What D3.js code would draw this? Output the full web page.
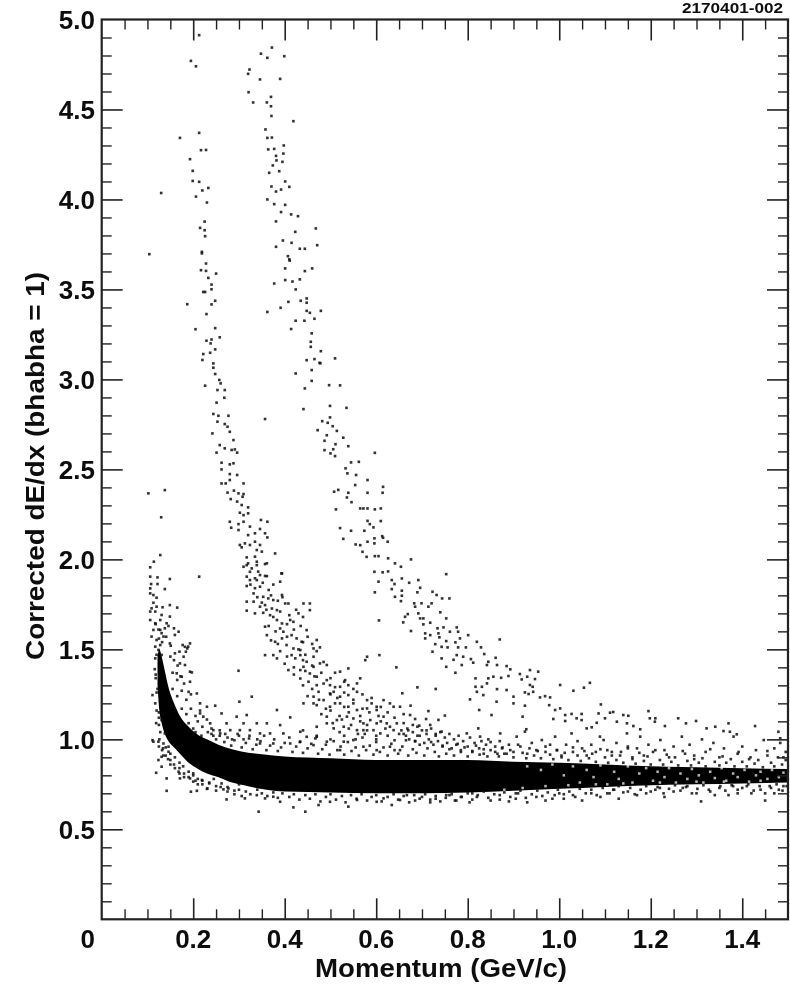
<!DOCTYPE html>
<html><head><meta charset="utf-8">
<script src="https://cdnjs.cloudflare.com/ajax/libs/d3/7.8.5/d3.min.js"></script>
<style>
html,body{margin:0;padding:0;background:#fff}
svg{display:block}
text{font-family:"Liberation Sans",Arial,sans-serif;font-weight:700;fill:#111}
</style></head><body>
<div id="chart"></div>
<script>
const xTitle = "Momentum (GeV/c)";
const yTitle = "Corrected dE/dx (bhabha = 1)";
const stamp = "2170401-002";
const xMajorTicks = [0.2,0.4,0.6,0.8,1.0,1.2,1.4];
const xMinorTicks = [0.05,0.1,0.15,0.25,0.3,0.35,0.45,0.5,0.55,0.65,0.7,0.75,0.85,0.9,0.95,1.05,1.1,1.15,1.25,1.3,1.35,1.45];
const yMajorTicks = [0.5,1.0,1.5,2.0,2.5,3.0,3.5,4.0,4.5];
const yMinorTicks = [0.1,0.2,0.3,0.4,0.6,0.7,0.8,0.9,1.1,1.2,1.3,1.4,1.6,1.7,1.8,1.9,2.1,2.2,2.3,2.4,2.6,2.7,2.8,2.9,3.1,3.2,3.3,3.4,3.6,3.7,3.8,3.9,4.1,4.2,4.3,4.4,4.6,4.7,4.8,4.9];

// Solid black core of the lowest band, read as its envelope (individual tracks cannot be told apart there)
const coreMomentum = [.122,.126,.131,.138,.146,.16,.171,.19,.208,.23,.255,.285,.32,.36,.40,.50,.60,.70,.80,.90,1.0,1.1,1.2,1.3,1.4,1.5];
const coreLow = [1.30,1.16,1.09,1.03,.99,.95,.92,.87,.84,.81,.79,.76,.74,.72,.71,.705,.70,.70,.705,.715,.725,.735,.745,.75,.755,.76];
const coreHigh = [1.46,1.50,1.46,1.38,1.29,1.19,1.13,1.07,1.03,1.0,.97,.945,.925,.915,.905,.895,.885,.885,.885,.875,.87,.86,.85,.845,.84,.835];

// Pale holes seen in the band to the right, where the tracks thin out
const coreGaps = [[.93,.85],[.96,.83],[.985,.86],[1.01,.80],[1.03,.85],[1.045,.76],[1.06,.83],[1.075,.79],[1.09,.855],[1.105,.75],[1.12,.82],[1.13,.78],[1.15,.85],[1.16,.76],[1.175,.81],[1.19,.84],[1.205,.77],[1.215,.82],[1.23,.79],[1.24,.84],[1.255,.76],[1.265,.81],[1.28,.78],[1.29,.835],[1.305,.80],[1.315,.76],[1.33,.82],[1.34,.785],[1.355,.84],[1.365,.77],[1.38,.81],[1.39,.79],[1.405,.83],[1.415,.765],[1.43,.80],[1.44,.82],[1.455,.78],[1.465,.83],[1.48,.79],[1.49,.815],[.88,.72],[.92,.73],[.97,.74],[1.02,.745],[1.08,.75],[1.14,.755],[1.22,.76],[1.30,.765],[1.36,.765],[1.44,.77]];

const protonBranch = [[.372,4.844],[.348,4.81],[.362,4.787],[.399,4.796],[.323,4.722],[.320,4.698],[.346,4.667],[.390,4.67],[.321,4.596],[.331,4.539],[.361,4.539],[.370,4.57],[.370,4.518],[.371,4.464],[.419,4.435],[.358,4.389],[.362,4.342],[.372,4.344],[.398,4.30],[.364,4.278],[.377,4.281],[.397,4.255],[.381,4.242],[.382,4.217],[.395,4.209],[.374,4.189],[.366,4.148],[.388,4.157],[.401,4.10],[.371,4.072],[.381,4.044],[.392,4.055],[.410,4.07],[.362,4.0],[.377,3.974],[.401,3.97],[.392,3.93],[.414,3.917],[.429,3.907],[.381,3.878],[.423,3.82],[.468,3.839],[.396,3.772],[.415,3.759],[.381,3.737],[.433,3.726],[.444,3.726],[.471,3.746],[.407,3.685],[.410,3.667],[.411,3.66],[.401,3.617],[.444,3.602],[.460,3.617],[.377,3.533],[.401,3.552],[.417,3.544],[.433,3.556],[.424,3.5],[.408,3.431],[.435,3.437],[.448,3.45],[.448,3.426],[.391,3.398],[.362,3.375],[.448,3.381],[.455,3.37],[.479,3.381],[.424,3.326],[.443,3.326],[.465,3.337],[.414,3.28],[.459,3.256],[.457,3.209],[.457,3.181],[.479,3.157],[.448,3.107],[.465,3.113],[.476,3.092],[.478,3.09],[.510,3.117],[.424,3.033],[.459,3.052],[.459,2.992],[.444,2.95],[.497,2.968],[.521,2.967],[.441,2.835],[.499,2.853],[.535,2.842],[.499,2.789],[.482,2.768],[.494,2.759],[.505,2.74],[.514,2.714],[.472,2.718],[.492,2.69],[.528,2.676],[.487,2.659],[.511,2.64],[.539,2.629],[.487,2.607],[.506,2.612],[.500,2.589],[.510,2.574],[.597,2.592],[.545,2.539],[.562,2.542],[.533,2.506],[.537,2.478],[.556,2.469],[.581,2.441],[.554,2.413],[.508,2.376],[.517,2.386],[.539,2.37],[.581,2.37],[.536,2.344],[.546,2.318],[.512,2.278],[.565,2.283],[.572,2.283],[.581,2.283],[.597,2.278],[.581,2.214],[.586,2.196],[.594,2.178],[.521,2.174],[.545,2.159],[.574,2.159],[.528,2.114],[.596,2.117],[.596,2.089],[.581,2.098],[.555,2.083],[.565,2.079],[.570,2.042],[.597,2.018],[.579,2.014],[.596,1.931],[.615,2.403],[.614,2.37],[.610,2.283],[.610,2.213],[.613,2.129],[.615,2.12],[.625,2.098],[.605,2.018],[.626,2.006],[.641,1.978],[.654,1.959],[.676,2.0],[.614,1.928],[.626,1.933],[.753,1.918],[.605,1.876],[.634,1.885],[.640,1.863],[.656,1.894],[.672,1.87],[.692,1.885],[.634,1.835],[.656,1.826],[.696,1.842],[.597,1.817],[.641,1.792],[.656,1.798],[.690,1.817],[.723,1.82],[.732,1.802],[.744,1.783],[.760,1.783],[.654,1.768],[.683,1.756],[.699,1.756],[.685,1.737],[.714,1.737],[.721,1.756],[.740,1.706],[.669,1.696],[.692,1.7],[.663,1.681],[.753,1.672],[.696,1.672],[.703,1.672],[.606,1.661],[.659,1.65],[.718,1.648],[.703,1.639],[.747,1.622],[.734,1.617],[.776,1.622],[.676,1.602],[.761,1.598],[.779,1.598],[.801,1.579],[.707,1.589],[.718,1.579],[.736,1.589],[.783,1.561],[.870,1.555],[.707,1.561],[.738,1.567],[.753,1.546],[.773,1.539],[.820,1.542],[.729,1.529],[.743,1.514],[.756,1.511],[.779,1.511],[.796,1.511],[.829,1.511],[.723,1.487],[.836,1.474],[.776,1.468],[.790,1.459],[.807,1.446],[.743,1.45],[.769,1.442],[.812,1.426],[.861,1.453],[.845,1.431],[.787,1.413],[.753,1.403],[.842,1.413],[.864,1.413],[.885,1.407],[.893,1.389],[.773,1.37],[.817,1.339],[.845,1.339],[.856,1.348],[.873,1.342],[.889,1.352],[.914,1.363],[.936,1.385],[.954,1.376],[.918,1.333],[.930,1.348],[.947,1.335],[1.002,1.302],[1.067,1.314],[.817,1.292],[.831,1.292],[.842,1.311],[.864,1.279],[.936,1.302],[.942,1.292],[1.054,1.287],[1.031,1.27],[.82,1.264],[.834,1.246],[.885,1.274],[.90,1.237],[.925,1.261],[.943,1.264],[.958,1.233],[.969,1.24],[.980,1.233],[.933,1.252],[1.091,1.194],[.978,1.19],[.991,1.163],[1.002,1.172],[1.013,1.135],[1.027,1.141],[1.049,1.141],[1.086,1.144],[1.111,1.148],[1.118,1.152],[1.10,1.117],[.987,1.113],[1.013,1.102],[1.038,1.117],[1.049,1.107],[1.14,1.135],[1.151,1.131],[1.195,1.157],[1.198,1.117],[1.21,1.117],[1.209,1.098],[1.26,1.117],[1.299,1.102],[1.071,1.067],[1.06,1.061],[1.082,1.092],[1.126,1.098],[1.148,1.089],[1.162,1.074],[1.177,1.056],[1.231,1.074],[1.277,1.089],[1.322,1.061],[1.341,1.07],[1.37,1.089],[1.359,1.046],[1.373,1.042],[1.428,1.074],[1.388,1.028],[1.479,1.042],[1.483,1.006],[.863,1.209],[.805,1.222],[.9,1.2],[.925,1.187],[.825,1.163],[.852,1.135],[.92,1.126],[.928,1.056],[.823,1.061],[.75,1.132],[.736,1.108],[.714,1.157],[.73,1.28],[.69,1.289],[.657,1.256],[.675,1.187],[.674,1.135],[.685,1.113],[.709,1.113],[.694,1.076],[.718,1.08]];

const kaonBranch = [[.213,4.913],[.195,4.77],[.206,4.74],[.213,4.37],[.171,4.342],[.217,4.274],[.228,4.275],[.193,4.224],[.199,4.159],[.199,4.103],[.213,4.098],[.22,4.05],[.233,4.064],[.13,4.036],[.206,4.016],[.23,3.983],[.225,3.877],[.215,3.842],[.225,3.829],[.226,3.796],[.219,3.709],[.219,3.70],[.104,3.696],[.228,3.644],[.217,3.607],[.228,3.603],[.25,3.588],[.233,3.564],[.24,3.527],[.24,3.501],[.222,3.486],[.226,3.486],[.187,3.418],[.24,3.417],[.248,3.437],[.229,3.363],[.205,3.279],[.248,3.285],[.258,3.234],[.229,3.215],[.24,3.222],[.238,3.2],[.222,3.141],[.237,3.148],[.248,3.167],[.22,3.108],[.244,3.089],[.244,3.065],[.248,3.03],[.257,2.997],[.226,2.965],[.26,2.978],[.253,2.941],[.269,2.941],[.268,2.898],[.251,2.871],[.244,2.808],[.255,2.798],[.277,2.798],[.253,2.765],[.269,2.752],[.275,2.737],[.242,2.7],[.28,2.709],[.288,2.663],[.251,2.593],[.258,2.635],[.269,2.617],[.284,2.608],[.291,2.611],[.296,2.593],[.262,2.537],[.28,2.528],[.288,2.534],[.262,2.5],[.28,2.474],[.296,2.469],[.28,2.441],[.262,2.422],[.271,2.422],[.31,2.422],[.275,2.371],[.289,2.382],[.299,2.367],[.31,2.363],[.308,2.348],[.282,2.335],[.296,2.321],[.306,2.302],[.32,2.289],[.32,2.256],[.302,2.259],[.31,2.246],[.28,2.209],[.283,2.176],[.299,2.196],[.299,2.163],[.31,2.209],[.348,2.219],[.362,2.209],[.324,2.182],[.346,2.169],[.32,2.135],[.335,2.145],[.357,2.145],[.362,2.122],[.302,2.08],[.313,2.089],[.324,2.08],[.335,2.098],[.346,2.08],[.306,2.067],[.339,2.052],[.35,2.043],[.379,2.033],[.317,2.011],[.335,2.015],[.32,1.978],[.339,1.987],[.361,1.978],[.31,1.959],[.328,1.95],[.342,1.932],[.393,1.922],[.357,1.908],[.213,1.904],[.317,1.904],[.335,1.895],[.357,2.78],[.317,1.968],[.339,1.968],[.357,1.974],[.324,1.931],[.346,1.913],[.361,1.907],[.394,1.922],[.39,1.876],[.324,1.885],[.339,1.885],[.346,1.848],[.317,1.852],[.332,1.811],[.353,1.792],[.364,1.783],[.375,1.774],[.394,1.802],[.401,1.755],[.408,1.755],[.317,1.765],[.332,1.765],[.346,1.737],[.357,1.746],[.372,1.727],[.383,1.718],[.353,1.703],[.317,1.715],[.368,1.69],[.43,1.7],[.383,1.663],[.394,1.644],[.412,1.663],[.419,1.653],[.357,1.626],[.39,1.616],[.397,1.598],[.448,1.607],[.441,1.755],[.455,1.755],[.455,1.718],[.361,1.579],[.379,1.542],[.394,1.561],[.415,1.579],[.426,1.561],[.47,1.552],[.437,1.542],[.463,1.505],[.404,1.524],[.419,1.505],[.434,1.496],[.477,1.511],[.415,1.468],[.357,1.468],[.375,1.468],[.383,1.45],[.423,1.45],[.434,1.468],[.463,1.459],[.448,1.431],[.441,1.403],[.463,1.403],[.477,1.422],[.492,1.413],[.434,1.385],[.408,1.385],[.455,1.366],[.434,1.338],[.47,1.348],[.452,1.32],[.47,1.301],[.492,1.329],[.499,1.301],[.521,1.376],[.539,1.394],[.565,1.339],[.532,1.329],[.499,1.255],[.521,1.292],[.539,1.301],[.474,1.264],[.463,1.237],[.507,1.264],[.558,1.311],[.58,1.459],[.607,1.468],[.576,1.44],[.644,1.4],[.485,1.218],[.521,1.237],[.539,1.246],[.558,1.264],[.58,1.218],[.601,1.181],[.616,1.218],[.638,1.181],[.652,1.181],[.441,1.2],[.463,1.2],[.499,1.181],[.521,1.2],[.539,1.181],[.558,1.163],[.58,1.172],[.601,1.163],[.616,1.126],[.492,1.126],[.514,1.107],[.536,1.126],[.55,1.116],[.572,1.089],[.587,1.107],[.601,1.089],[.623,1.089],[.645,1.089],[.492,1.089],[.507,1.061],[.529,1.07],[.558,1.051],[.572,1.051],[.594,1.051],[.609,1.033],[.638,1.051]];

const kaonDense = [[.325,1.86],[.335,1.84],[.352,1.87],[.365,1.83],[.375,1.86],[.34,1.79],[.35,1.76],[.37,1.8],[.385,1.77],[.395,1.79],[.335,1.7],[.36,1.72],[.375,1.68],[.39,1.71],[.41,1.69],[.425,1.72],[.44,1.68],[.365,1.63],[.38,1.6],[.405,1.64],[.42,1.61],[.435,1.63],[.37,1.55],[.385,1.53],[.405,1.57],[.44,1.54],[.45,1.57],[.46,1.53],[.39,1.49],[.405,1.46],[.43,1.5],[.445,1.47],[.47,1.49],[.40,1.42],[.42,1.4],[.44,1.44],[.46,1.41],[.485,1.43],[.42,1.36],[.445,1.38],[.465,1.35],[.48,1.37],[.50,1.34],[.51,1.37],[.44,1.3],[.46,1.28],[.485,1.31],[.51,1.29],[.53,1.32],[.55,1.28],[.45,1.24],[.475,1.22],[.50,1.25],[.515,1.23],[.53,1.26],[.55,1.22],[.57,1.25],[.59,1.23],[.47,1.19],[.49,1.17],[.51,1.2],[.53,1.18],[.55,1.2],[.57,1.17],[.59,1.2],[.61,1.18],[.63,1.2],[.48,1.14],[.50,1.16],[.52,1.13],[.54,1.15],[.565,1.13],[.585,1.15],[.605,1.13],[.625,1.15],[.64,1.12],[.66,1.14],[.505,1.09],[.525,1.11],[.545,1.08],[.565,1.1],[.58,1.08],[.61,1.1],[.63,1.07],[.66,1.09],[.68,1.08],[.44,1.05],[.47,1.07],[.52,1.04],[.54,1.06],[.56,1.03],[.58,1.05],[.60,1.02],[.62,1.06],[.65,1.03],[.67,1.05],[.69,1.02],[.71,1.05],[.73,1.03],[.47,1.02],[.50,1.0],[.53,1.02],[.555,1.0],[.575,1.03],[.60,1.0],[.625,1.02],[.64,.995],[.665,1.02],[.685,.99]];

const lowBandLeftStream = [[.102,2.367],[.138,2.385],[.13,2.234],[.128,2.024],[.114,1.987],[.106,1.956],[.106,1.904],[.122,1.9],[.149,1.891],[.108,1.863],[.122,1.863],[.138,1.835],[.106,1.839],[.106,1.811],[.113,1.802],[.12,1.787],[.113,1.759],[.149,1.746],[.165,1.732],[.109,1.728],[.12,1.737],[.133,1.734],[.106,1.71],[.117,1.71],[.131,1.691],[.149,1.682],[.106,1.663],[.117,1.645],[.128,1.663],[.142,1.645],[.158,1.617],[.113,1.608],[.128,1.608],[.138,1.617],[.168,1.598],[.109,1.571],[.12,1.552],[.135,1.571],[.16,1.58],[.117,1.515],[.128,1.524],[.149,1.533],[.177,1.524],[.189,1.515],[.184,1.487],[.16,1.478],[.17,1.487],[.124,1.497],[.117,1.45],[.131,1.469],[.171,1.422],[.182,1.413],[.197,1.372],[.164,1.367],[.175,1.348],[.113,.987],[.111,.995],[.124,.987],[.146,.959],[.146,.931],[.135,.977],[.131,1.107],[.138,1.033],[.117,1.2],[.111,1.246],[.131,.903],[.124,.885],[.131,.848],[.119,.814],[.142,.783],[.142,.714],[.168,.82],[.171,.783],[.193,.783],[.195,.709],[.208,.714],[.231,.727],[.2,.811],[.219,.774],[.125,1.15],[.119,1.09],[.128,1.04],[.122,1.28],[.118,1.34],[.116,1.39],[.126,1.0],[.134,.95],[.14,.91],[.15,.885],[.158,.86],[.17,.84],[.18,.81],[.19,.79],[.205,.77],[.22,.75],[.235,.76],[.25,.74],
[.118,1.64],[.124,1.61],[.131,1.59],[.146,1.63],[.125,1.56],[.132,1.54],[.141,1.57],[.151,1.52],[.12,1.47],[.15,1.46],[.158,1.44],[.166,1.41],[.118,1.36],[.155,1.37],[.165,1.33],[.172,1.35],[.18,1.31],[.12,1.26],[.155,1.28],[.165,1.24],[.175,1.27],[.185,1.22],[.195,1.25],[.12,1.16],[.125,1.12],[.175,1.17],[.185,1.14],[.195,1.17],[.205,1.13],[.215,1.16],[.125,1.08],[.19,1.09],[.2,1.06],[.21,1.1],[.22,1.07],[.23,1.11],[.24,1.06],[.205,1.04],[.218,1.02],[.232,1.04],[.244,1.02],[.258,1.05],[.27,1.03],[.285,1.0],[.297,1.03],[.31,1.0],[.323,1.02],[.34,1.0],[.125,.96],[.132,.94],[.14,.955],[.135,.91],[.145,.89],[.15,.92],[.16,.9],[.15,.86],[.16,.84],[.17,.87],[.178,.85],[.17,.81],[.18,.79],[.19,.82],[.2,.8],[.21,.78],[.2,.765],[.21,.75],[.22,.77],[.235,.755],[.245,.78],[.23,.725],[.25,.715],[.26,.735],[.275,.71],[.29,.695],[.30,.72]];

const lowBandUpperFringe = [[.193,1.533],[.182,1.514],[.187,1.505],[.179,1.459],[.193,1.376],[.299,1.381],[.328,1.237],[.301,1.209],[.383,1.163],[.412,1.122],[.262,1.144],[.248,1.187],[.23,1.181],[.215,1.2],[.208,1.255],[.19,1.264],[.193,1.32],[.295,1.126],[.317,1.135],[.339,1.089],[.361,1.089],[.39,1.079],[.31,1.089],[.273,1.089],[.281,1.051],[.302,1.051],[.324,1.051],[.346,1.033],[.368,1.033],[.397,1.033],[.434,1.042],[.448,1.014],[.47,1.014],[.492,.987],[.529,.987],[.55,.996],[.259,1.033],[.237,1.089],[.244,1.051],[.222,1.126],[.215,1.144],[.346,.977],[.375,.977],[.412,.977],[.434,.987],[.463,.968],[.521,.94],[.572,.959],[.601,.94],[.63,.959],[.652,.94],[.655,1.05],[.66,1.03],[.668,1.06],[.672,1.0],[.68,1.04],[.685,.99],[.69,1.07],[.695,1.02],[.70,1.05],[.705,.98],[.71,1.03],[.715,1.0],[.72,1.06],[.725,.97],[.73,1.02],[.735,.99],[.74,1.04],[.743,1.043],[.745,.96],[.75,1.01],[.755,.98],[.76,1.03],[.765,.95],[.77,1.0],[.775,.97],[.78,1.02],[.785,.94],[.79,.99],[.798,1.033],[.80,.96],[.805,1.01],[.81,.93],[.815,.98],[.827,1.015],[.825,.95],[.83,.99],[.835,.92],[.84,.97],[.845,1.0],[.85,.94],[.871,1.033],[.86,.96],[.865,.92],[.87,.99],[.875,.95],[.88,.92],[.89,.97],[.90,.93],[.907,1.015],[.915,.96],[.925,1.043],[.93,.92],[.94,.98],[.95,.94],[.962,.996],[.97,.93],[.98,.97],[.991,1.015],[.995,.94],[1.005,.91],[1.015,.97],[1.027,1.033],[1.03,.93],[1.04,.99],[1.05,.95],[1.06,.91],[1.07,.97],[1.08,.93],[1.089,1.015],[1.097,.996],[1.105,.94],[1.115,.91],[1.125,.98],[1.135,.93],[1.148,1.033],[1.15,.96],[1.16,.90],[1.17,.95],[1.177,1.015],[1.185,.91],[1.195,.97],[1.205,.93],[1.221,.996],[1.23,.94],[1.24,.90],[1.25,.96],[1.268,1.015],[1.275,.92],[1.285,.97],[1.295,.89],[1.312,1.0],[1.32,.93],[1.337,.98],[1.35,.90],[1.36,.95],[1.381,1.015],[1.39,.92],[1.40,.96],[1.415,.89],[1.43,.94],[1.447,.996],[1.455,.91],[1.47,.95],[1.483,.98],[1.49,.90],[1.495,.93]];

const upperEdgeDense = [[.24,1.03],[.25,1.0],[.258,1.02],[.268,.985],[.275,1.01],[.283,.965],[.29,.995],[.30,1.02],[.306,.955],[.315,.98],[.322,1.005],[.33,.945],[.338,.97],[.347,.99],[.355,1.02],[.36,.94],[.368,.965],[.377,1.0],[.385,.935],[.392,.955],[.40,.98],[.41,1.01],[.417,.93],[.425,.96],[.433,.985],[.44,.925],[.45,.95],[.458,.975],[.467,1.005],[.473,.92],[.482,.945],[.49,.97],[.498,.915],[.507,.99],[.515,.94],[.522,.96],[.53,.915],[.538,.985],[.546,.935],[.555,.955],[.562,.91],[.57,1.01],[.578,.94],[.586,.965],[.594,.915],[.60,.985],[.608,.93],[.616,.955],[.625,.91],[.633,.975],[.64,.94],[.648,.92],[.657,.96],[.665,.995],[.67,.91],[.68,.945],[.688,.925],[.695,.97],[.705,.91],[.712,.95],[.72,.985],[.728,.93],[.737,.905],[.745,.965],[.753,.92],[.76,.945],[.77,.91],[.778,.975],[.785,.93],[.793,.955],[.80,.905],[.81,.935],[.818,.965],[.826,.915],[.835,.945],[.843,.905],[.85,.985],[.86,.93],[.868,.905],[.876,.955],[.885,.92],[.893,.94],[.90,.90],[.91,.97],[.92,.925],[.928,.895],[.935,.95],[.945,.91],[.953,.935],[.96,.895],[.97,.96],[.98,.915],[.987,.89],[.995,.94],[1.005,.90],[1.012,.925],[1.02,.885],[1.03,.955],[1.04,.91],[1.047,.88],[1.055,.935],[1.065,.895],[1.072,.92],[1.08,.875],[1.09,.945],[1.1,.90],[1.107,.87],[1.115,.93],[1.125,.885],[1.133,.91],[1.14,.87],[1.15,.95],[1.16,.89],[1.167,.865],[1.175,.925],[1.185,.88],[1.193,.905],[1.2,.86],[1.21,.94],[1.22,.885],[1.227,.86],[1.235,.915],[1.245,.875],[1.253,.90],[1.26,.855],[1.27,.935],[1.28,.88],[1.288,.855],[1.295,.91],[1.305,.87],[1.313,.895],[1.32,.85],[1.33,.945],[1.34,.875],[1.35,.855],[1.357,.905],[1.365,.87],[1.375,.89],[1.383,.85],[1.392,.93],[1.40,.875],[1.41,.85],[1.418,.90],[1.427,.865],[1.435,.885],[1.445,.845],[1.455,.935],[1.463,.87],[1.47,.85],[1.478,.90],[1.487,.86],[1.495,.885]];

const lowBandLowerFringe = [[.266,.722],[.277,.727],[.273,.666],[.306,.685],[.313,.672],[.339,.69],[.343,.598],[.357,.672],[.375,.681],[.39,.653],[.419,.622],[.445,.598],[.474,.635],[.499,.653],[.539,.626],[.558,.663],[.601,.653],[.634,.635],[.616,.672],[.652,.663],[.667,.69],[.685,.66],[.70,.68],[.718,.65],[.73,.67],[.753,.69],[.772,.66],[.785,.68],[.804,.65],[.82,.68],[.85,.66],[.87,.69],[.89,.655],[.905,.67],[.93,.65],[.95,.68],[.97,.66],[.99,.69],[1.01,.67],[1.03,.69],[1.05,.66],[1.07,.70],[1.09,.68],[1.11,.70],[1.13,.67],[1.15,.71],[1.17,.69],[1.19,.70],[1.21,.72],[1.23,.68],[1.25,.71],[1.27,.73],[1.30,.70],[1.31,.655],[1.33,.71],[1.35,.73],[1.37,.69],[1.39,.72],[1.41,.74],[1.42,.70],[1.44,.72],[1.45,.66],[1.46,.74],[1.47,.70],[1.48,.72],[1.49,.74],[.76,.69],[.81,.70],[.91,.70],[1.0,.70],[1.12,.72],[1.22,.73],[1.28,.74],[1.38,.74]];

const lowerEdgeDense = [[.262,.755],[.275,.735],[.29,.715],[.30,.75],[.315,.71],[.325,.695],[.34,.72],[.35,.70],[.362,.685],[.375,.705],[.385,.675],[.395,.70],[.41,.68],[.42,.695],[.432,.665],[.445,.69],[.455,.67],[.467,.695],[.478,.655],[.49,.68],[.50,.695],[.512,.665],[.525,.685],[.533,.65],[.545,.69],[.557,.67],[.568,.695],[.58,.66],[.59,.68],[.60,.69],[.612,.655],[.625,.68],[.638,.695],[.648,.665],[.66,.685],[.672,.65],[.683,.69],[.695,.67],[.707,.695],[.718,.665],[.73,.685],[.74,.655],[.752,.675],[.765,.695],[.775,.66],[.787,.68],[.80,.70],[.81,.665],[.822,.69],[.835,.71],[.845,.675],[.858,.695],[.87,.665],[.88,.705],[.893,.68],[.905,.70],[.915,.715],[.927,.675],[.94,.695],[.952,.715],[.963,.685],[.975,.705],[.985,.67],[.997,.72],[1.01,.695],[1.022,.71],[1.035,.68],[1.045,.725],[1.058,.70],[1.07,.72],[1.082,.69],[1.095,.73],[1.105,.70],[1.118,.72],[1.13,.74],[1.14,.705],[1.155,.73],[1.165,.695],[1.178,.72],[1.19,.74],[1.2,.71],[1.215,.735],[1.228,.70],[1.24,.725],[1.253,.745],[1.265,.715],[1.277,.735],[1.29,.70],[1.302,.725],[1.315,.745],[1.327,.72],[1.34,.69],[1.352,.74],[1.363,.715],[1.377,.745],[1.39,.70],[1.4,.73],[1.413,.75],[1.425,.715],[1.438,.74],[1.45,.70],[1.463,.73],[1.475,.75],[1.488,.715],[1.497,.74]];

const W = 790, H = 991;
const x = d3.scaleLinear().domain([0,1.5]).range([101.7,788]);
const y = d3.scaleLinear().domain([0,5]).range([919.3,19.5]);
const svg = d3.select("#chart").append("svg").attr("width",W).attr("height",H).attr("viewBox",`0 0 ${W} ${H}`);
const defs = svg.append("defs");
defs.append("filter").attr("id","soft").append("feGaussianBlur").attr("stdDeviation",0.4);
const root = svg.append("g").attr("filter","url(#soft)");

// Dense core
root.append("path")
  .datum(coreMomentum.map((p,i)=>({p,lo:coreLow[i],hi:coreHigh[i]})))
  .attr("fill","#050505")
  .attr("d",d3.area().x(d=>x(d.p)).y0(d=>y(d.lo)).y1(d=>y(d.hi)).curve(d3.curveMonotoneX));
root.append("g").selectAll("rect").data(coreGaps).join("rect")
  .attr("x",d=>x(d[0])-1.25).attr("y",d=>y(d[1])-1.25).attr("width",2.5).attr("height",2.5)
  .attr("fill","#fff").attr("opacity",.7);

// Individual tracks
const allPoints = [...protonBranch,...kaonBranch,...kaonDense,...lowBandLeftStream,...lowBandUpperFringe,...upperEdgeDense,...lowBandLowerFringe,...lowerEdgeDense];
root.append("g").selectAll("rect").data(allPoints).join("rect")
  .attr("x",d=>x(d[0])-1.3).attr("y",d=>y(d[1])-1.3)
  .attr("width",2.6).attr("height",2.6)
  .attr("fill","#0c0c0c").attr("opacity",.85);

// Axes: ticks drawn inward on all four sides
function styleAxis(g,w){g.select(".domain").remove();g.selectAll("line").attr("stroke","#222").attr("stroke-width",w);g.selectAll("text").remove();}
root.append("g").attr("transform",`translate(${x(0)},0)`).call(d3.axisRight(y).tickValues(yMajorTicks).tickSize(21)).call(styleAxis,1.6);
root.append("g").attr("transform",`translate(${x(0)},0)`).call(d3.axisRight(y).tickValues(yMinorTicks).tickSize(10)).call(styleAxis,1.4);
root.append("g").attr("transform",`translate(${x(1.5)},0)`).call(d3.axisLeft(y).tickValues(yMajorTicks).tickSize(21)).call(styleAxis,1.6);
root.append("g").attr("transform",`translate(${x(1.5)},0)`).call(d3.axisLeft(y).tickValues(yMinorTicks).tickSize(10)).call(styleAxis,1.4);
root.append("g").attr("transform",`translate(0,${y(0)})`).call(d3.axisTop(x).tickValues(xMajorTicks).tickSize(21)).call(styleAxis,1.6);
root.append("g").attr("transform",`translate(0,${y(0)})`).call(d3.axisTop(x).tickValues(xMinorTicks).tickSize(10)).call(styleAxis,1.4);
root.append("g").attr("transform",`translate(0,${y(5)})`).call(d3.axisBottom(x).tickValues(xMajorTicks).tickSize(21)).call(styleAxis,1.6);
root.append("g").attr("transform",`translate(0,${y(5)})`).call(d3.axisBottom(x).tickValues(xMinorTicks).tickSize(10)).call(styleAxis,1.4);
root.append("rect").attr("x",x(0)).attr("y",y(5)).attr("width",x(1.5)-x(0)).attr("height",y(0)-y(5))
  .attr("fill","none").attr("stroke","#222").attr("stroke-width",2.2);

// Tick labels
const yLabels = [...yMajorTicks,5.0];
root.append("g").selectAll("text").data(yLabels).join("text")
  .attr("x",95).attr("y",d=>y(d)+9.5).attr("text-anchor","end").attr("font-size",26)
  .text(d=>d3.format(".1f")(d));
root.append("g").selectAll("text").data(xMajorTicks).join("text")
  .attr("x",d=>x(d)).attr("y",948).attr("text-anchor","middle").attr("font-size",26)
  .text(d=>d3.format(".1f")(d));
root.append("text").attr("x",95).attr("y",948).attr("text-anchor","end").attr("font-size",26).text("0");

// Titles
root.append("text").attr("x",441).attr("y",977).attr("text-anchor","middle").attr("font-size",26)
  .attr("textLength",252).attr("lengthAdjust","spacingAndGlyphs").text(xTitle);
root.append("text").attr("transform","translate(44,466) rotate(-90)").attr("text-anchor","middle").attr("font-size",26)
  .attr("textLength",388).attr("lengthAdjust","spacingAndGlyphs").text(yTitle);
root.append("text").attr("x",682).attr("y",13).attr("font-size",14).attr("font-weight",400)
  .attr("textLength",101).attr("lengthAdjust","spacingAndGlyphs").text(stamp);
</script>
</body></html>
